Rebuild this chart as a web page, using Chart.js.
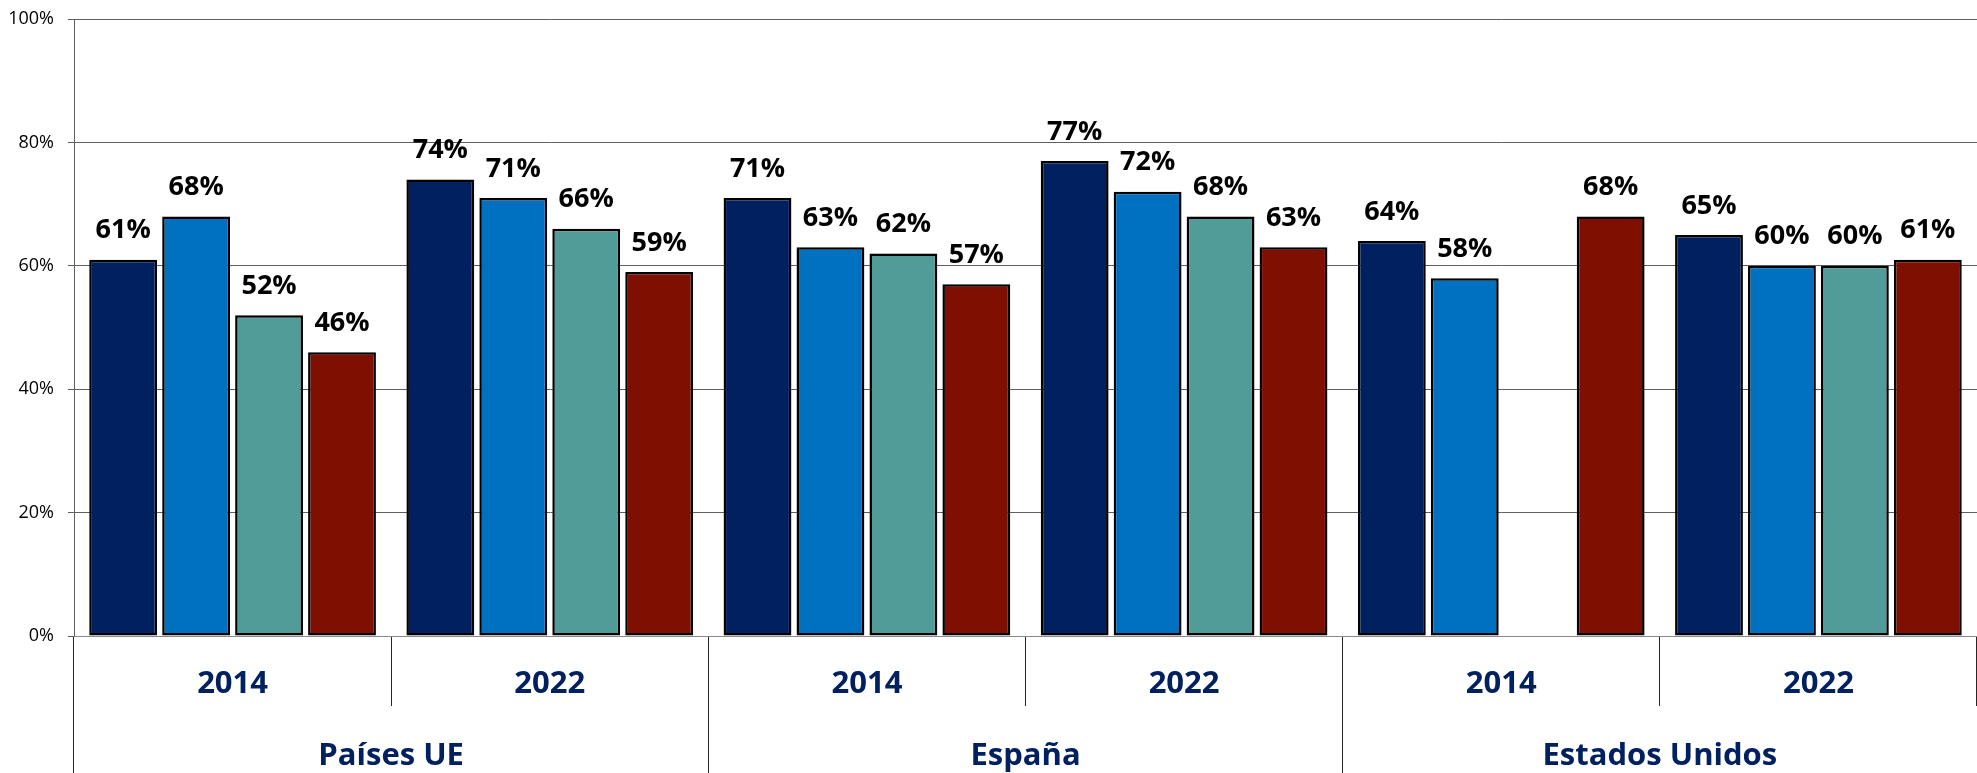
<!DOCTYPE html>
<html>
<head>
<meta charset="utf-8">
<script src="https://cdn.jsdelivr.net/npm/chart.js@4.4.1/dist/chart.umd.min.js"></script>
<style>
  html, body { margin: 0; padding: 0; background: #fff; }
  #wrap { width: 1977px; height: 773px; position: relative; }
</style>
</head>
<body>
<div id="wrap"><canvas id="chart"></canvas></div>
<script>
// data
const years = ["2014", "2022", "2014", "2022", "2014", "2022"];
const countries = ["Países UE", "España", "Estados Unidos"];
const yTicks = [0, 20, 40, 60, 80, 100];

const serie1 = [61, 74, 71, 77, 64, 65];
const serie2 = [68, 71, 63, 72, 58, 60];
const serie3 = [52, 66, 62, 68, null, 60];
const serie4 = [46, 59, 57, 63, 68, 61];

const seriesNames = ["Serie 1", "Serie 2", "Serie 3", "Serie 4"];
const colors = ["#002060", "#0070C0", "#519C98", "#7F0F00"];

// draw value labels above each bar
const barLabels = {
  id: "barLabels",
  afterDatasetsDraw(chart) {
    const ctx = chart.ctx;
    ctx.save();
    ctx.font = "bold 27px 'Open Sans', sans-serif";
    ctx.fillStyle = "#000";
    ctx.textAlign = "center";
    ctx.textBaseline = "middle";
    chart.data.datasets.forEach((ds, i) => {
      const meta = chart.getDatasetMeta(i);
      meta.data.forEach((bar, j) => {
        const v = ds.data[j];
        if (v === null || v === undefined) return;
        ctx.fillText(v + "%", bar.x, bar.y - 29);
      });
    });
    ctx.restore();
  },
};

const allSeries = [serie1, serie2, serie3, serie4];

new Chart(document.getElementById("chart"), {
  type: "bar",
  data: {
    labels: years,
    datasets: allSeries.map((s, i) => ({
      label: seriesNames[i],
      data: s,
      backgroundColor: colors[i],
      borderColor: "#000",
      borderWidth: 2.5,
      borderSkipped: false,
      categoryPercentage: 0.92,
      barPercentage: 0.93,
    })),
  },
  options: {
    responsive: true,
    maintainAspectRatio: false,
    animation: false,
    layout: { padding: { top: 19, right: 0, left: 0, bottom: 0 } },
    plugins: {
      legend: { display: false },
      tooltip: { enabled: false },
    },
    scales: {
      y: {
        min: 0,
        max: 100,
        afterFit: (scale) => {
          scale.width = 74;
          scale.paddingTop = 0;
          scale.paddingBottom = 0;
        },
        afterBuildTicks: (scale) => {
          scale.ticks = yTicks.map((v) => ({ value: v }));
        },
        ticks: {
          padding: 14,
          color: "#000",
          font: { family: "'Open Sans', sans-serif", size: 18 },
          callback: (v) => v + "%",
        },
        grid: { color: "#5f5f5f", tickLength: 6, tickColor: "#5f5f5f" },
        border: { color: "#5f5f5f" },
      },
      x: {
        position: "bottom",
        afterFit: (scale) => { scale.height = 70; },
        ticks: {
          padding: -40,
          maxRotation: 0,
          autoSkip: false,
          color: "#002060",
          font: { family: "'Open Sans', sans-serif", size: 31, weight: "bold" },
        },
        grid: {
          offset: true,
          drawOnChartArea: false,
          tickLength: 70,
          tickColor: "#262626",
          tickWidth: 1,
        },
        border: { color: "#8a8a8a" },
      },
      x2: {
        type: "category",
        position: "bottom",
        labels: countries,
        offset: true,
        afterFit: (scale) => { scale.height = 67; },
        ticks: {
          padding: -35,
          maxRotation: 0,
          autoSkip: false,
          color: "#002060",
          font: { family: "'Open Sans', sans-serif", size: 31, weight: "bold" },
        },
        grid: {
          offset: true,
          drawOnChartArea: false,
          tickLength: 67,
          tickColor: "#262626",
          tickWidth: 1,
        },
        border: { display: false },
      },
    },
  },
  plugins: [barLabels],
});
</script>
</body>
</html>
